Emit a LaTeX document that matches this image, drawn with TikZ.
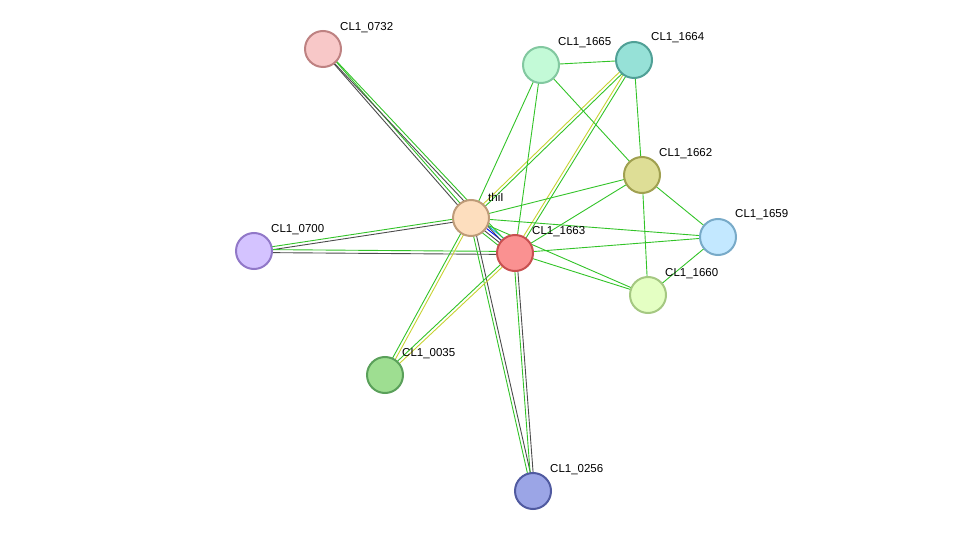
\documentclass[tikz,border=0pt]{standalone}
\usepackage{fontspec}
\setmainfont{Liberation Sans}
\usetikzlibrary{calc}
\definecolor{grx}{RGB}{50,195,40}
\definecolor{ylx}{RGB}{200,210,50}
\tikzset{
  prot/.style={circle,draw,line width=2pt,minimum size=36pt,inner sep=0pt},
  lbl/.style={font=\fontsize{11.5}{13}\selectfont,anchor=south west,inner sep=1pt},
}
% edge with parallel lines: {colour/offset}
\newcommand{\pedge}[3]{%
  \foreach \c/\o in {#3} {
    \draw[\c,line width=0.9pt] ($(#1)!\o pt!90:(#2)$) -- ($(#2)!\o pt!-90:(#1)$);
  }%
}
\begin{document}
\begin{tikzpicture}[x=1pt,y=-1pt]
  \useasboundingbox (0,0) rectangle (976,537);
  \coordinate (thi) at (471,218);
  \coordinate (c1663) at (515,253);
  \coordinate (c0732) at (323,49);
  \coordinate (c1665) at (541,65);
  \coordinate (c1664) at (634,60);
  \coordinate (c1662) at (642,175);
  \coordinate (c1659) at (718,237);
  \coordinate (c1660) at (648,295);
  \coordinate (c0700) at (254,251);
  \coordinate (c0035) at (385,375);
  \coordinate (c0256) at (533,491);

  % edges
  \pedge{thi}{c1663}{grx/-4.5,black!70/-1.5,blue/1.5,cyan/4.5}
  \pedge{thi}{c0732}{grx/-1.5,black!70/1.5}
  \pedge{c1663}{c0732}{grx/-1.5,black!70/1.5}
  \pedge{thi}{c0700}{grx/-1.5,black!70/1.5}
  \pedge{c1663}{c0700}{grx/-1.5,black!70/1.5}
  \pedge{thi}{c0256}{grx/-1.5,black!70/1.5}
  \pedge{c1663}{c0256}{grx/-1.5,black!70/1.5}
  \pedge{thi}{c1664}{grx/-1.5,ylx/1.5}
  \pedge{c1663}{c1664}{grx/-1.5,ylx/1.5}
  \pedge{thi}{c0035}{grx/-1.5,ylx/1.5}
  \pedge{c1663}{c0035}{grx/-1.5,ylx/1.5}
  \foreach \a/\b in {thi/c1665,c1663/c1665,c1665/c1664,c1665/c1662,c1664/c1662,
    thi/c1662,c1663/c1662,c1662/c1659,c1662/c1660,c1659/c1660,thi/c1659,
    c1663/c1659,thi/c1660,c1663/c1660} {
    \pedge{\a}{\b}{grx/0}
  }

  % proteins
  \node[prot,draw={rgb,255:red,190;green,155;blue,120},fill={rgb,255:red,253;green,222;blue,190}] (nthi) at (thi) {};
  \node[prot,draw={rgb,255:red,200;green,80;blue,80},fill={rgb,255:red,250;green,145;blue,145}] (n1663) at (c1663) {};
  \node[prot,draw={rgb,255:red,190;green,130;blue,130},fill={rgb,255:red,248;green,200;blue,200}] (n0732) at (c0732) {};
  \node[prot,draw={rgb,255:red,130;green,200;blue,160},fill={rgb,255:red,195;green,250;blue,215}] (n1665) at (c1665) {};
  \node[prot,draw={rgb,255:red,80;green,160;blue,150},fill={rgb,255:red,150;green,225;blue,215}] (n1664) at (c1664) {};
  \node[prot,draw={rgb,255:red,160;green,160;blue,80},fill={rgb,255:red,222;green,222;blue,150}] (n1662) at (c1662) {};
  \node[prot,draw={rgb,255:red,120;green,170;blue,200},fill={rgb,255:red,195;green,232;blue,255}] (n1659) at (c1659) {};
  \node[prot,draw={rgb,255:red,165;green,200;blue,130},fill={rgb,255:red,228;green,255;blue,195}] (n1660) at (c1660) {};
  \node[prot,draw={rgb,255:red,145;green,120;blue,200},fill={rgb,255:red,212;green,195;blue,255}] (n0700) at (c0700) {};
  \node[prot,draw={rgb,255:red,90;green,160;blue,90},fill={rgb,255:red,158;green,222;blue,145}] (n0035) at (c0035) {};
  \node[prot,draw={rgb,255:red,80;green,90;blue,160},fill={rgb,255:red,155;green,165;blue,230}] (n0256) at (c0256) {};

  % labels
  \node[lbl] at (487,203) {thiI};
  \node[lbl] at (531,238) {CL1\_1663};
  \node[lbl] at (339,34) {CL1\_0732};
  \node[lbl] at (557,49) {CL1\_1665};
  \node[lbl] at (650,44) {CL1\_1664};
  \node[lbl] at (658,160) {CL1\_1662};
  \node[lbl] at (734,221) {CL1\_1659};
  \node[lbl] at (664,280) {CL1\_1660};
  \node[lbl] at (270,236) {CL1\_0700};
  \node[lbl] at (401,360) {CL1\_0035};
  \node[lbl] at (549,476) {CL1\_0256};
\end{tikzpicture}
\end{document}
